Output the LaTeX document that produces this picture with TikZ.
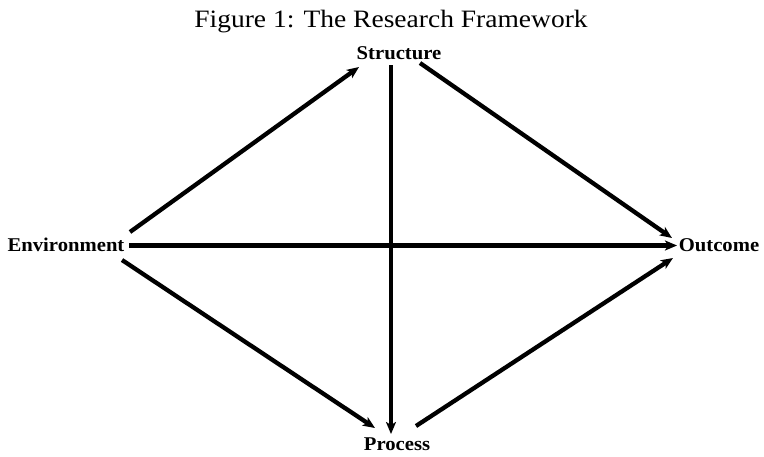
\documentclass[tikz,border=0pt]{standalone}
\usepackage{fontspec}
\setmainfont{Liberation Serif}
\newfontfamily\lblfont[FakeStretch=1.06]{Liberation Serif}
\newfontfamily\ttlfont[FakeStretch=1.1]{Liberation Serif}
\usetikzlibrary{arrows.meta}
\tikzset{
  lbl/.style={inner sep=0pt, font=\lblfont\fontsize{19.5}{22}\selectfont\bfseries},
  conn/.style={line width=4.3pt, -{Stealth[length=12pt,width=10pt,inset=3pt]}}
}
\begin{document}
\begin{tikzpicture}[x=1pt,y=-1pt]
\useasboundingbox[fill=white] (0,0) rectangle (764,456);
\node[inner sep=0pt, font=\ttlfont\fontsize{25}{28}\selectfont] (title) at (391,22) {Figure 1: The Research Framework};
\node[lbl] (str) at (399,53) {Structure};
\node[lbl] (env) at (66,245) {Environment};
\node[lbl] (out) at (719,245) {Outcome};
\node[lbl] (pro) at (397,444) {Process};
% connector end points
\coordinate (envNE) at (130,232);
\coordinate (envE) at (129,245.5);
\coordinate (envSE) at (122,260);
\coordinate (strSW) at (359,67);
\coordinate (strS) at (391,65);
\coordinate (strSE) at (420,63);
\coordinate (outNW) at (672,238);
\coordinate (outW) at (677,245.5);
\coordinate (outSW) at (673,258);
\coordinate (proNW) at (375,428);
\coordinate (proN) at (391,434);
\coordinate (proNE) at (416,426);
\draw[conn] (envNE) -- (strSW);
\draw[conn] (strSE) -- (outNW);
\draw[conn] (envE) -- (outW);
\draw[conn] (strS) -- (proN);
\draw[conn] (envSE) -- (proNW);
\draw[conn] (proNE) -- (outSW);
\end{tikzpicture}
\end{document}
